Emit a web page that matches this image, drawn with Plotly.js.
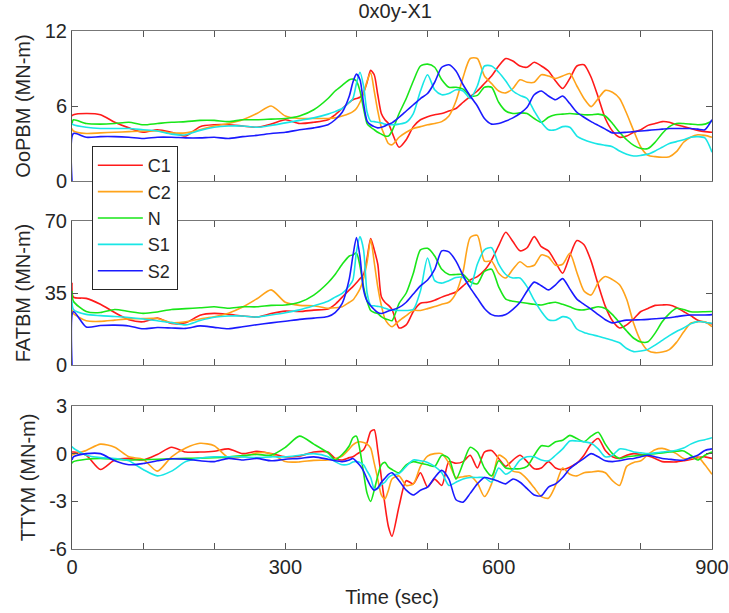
<!DOCTYPE html>
<html>
<head>
<meta charset="utf-8">
<script src="https://cdn.plot.ly/plotly-3.0.1.min.js"></script>
<style>html,body{margin:0;padding:0;background:#fff;}#chart{width:729px;height:613px;}</style>
</head>
<body>
<div id="chart"></div>
<script>
// Time grid (sec)
const timeSec = [0,2,20,40,60,80,100,120,140,160,180,200,220,240,260,280,300,320,340,360,
  370,380,390,395,400,405,410,415,420,425,430,435,440,445,450,
  460,470,480,490,500,510,520,530,540,550,560,570,580,590,600,610,620,630,640,650,660,670,680,690,700,
  710,720,730,740,750,760,770,780,790,800,810,820,830,840,850,860,870,880,890,900];

const seriesNames = ["C1","C2","N","S1","S2"];
const seriesColors = ["#ff1a1a","#ffa31a","#19e619","#19e6e6","#1a1aff"];

// OoPBM (MN-m)
const oopbmC1 = [5.2,5.3,5.4,5.3,4.7,4.25,3.9,4.1,3.9,3.6,4.35,4.5,4.5,4.4,4.3,4.55,4.9,4.6,4.7,4.9,
  5.3,5.8,6.3,6.5,6.6,6.7,7.1,7.9,8.85,8.5,6.9,5.4,4.9,4.6,3.9,
  2.7,3.3,4.35,4.9,5.15,5.3,5.4,5.6,5.8,6.3, 6.75,7.2,7.8,8.4,9.2,9.8,9.6,9.2,9.1,9.5, 9.2,8.8,8.0,7.4,8.2,9.2,9.3,8.3,6.7,5.0, 4.0,3.5,3.6,3.9,4.1,4.45,4.6,4.75,4.7,4.5, 4.35,4.2,4.05,3.95,3.9];
const oopbmC2 = [4.2,4.0,3.8,3.85,3.9,3.95,4.0,4.0,3.85,3.85,4.1,4.4,4.6,4.9,5.4,6.0,5.2,5.0,5.0,5.0,
  5.05,5.2,5.4,5.55,5.8,6.3,7.0,8.0,8.65,7.2,5.6,4.3,3.6,3.0,2.9,
  3.5,3.9,4.2,4.35,4.5,4.6,4.75,5.2,6.4,8.3, 9.8,9.8,8.4,7.8,7.2,7.05,7.4,8.1,7.9,7.9, 8.5,8.4,8.2,8.4,8.6,7.6,6.6,5.95,6.6,7.25, 7.1,6.6,5.4,4.0,2.7,2.05,1.95,1.9,1.95,2.35, 3.1,3.5,3.7,3.65,3.5];
const oopbmN = [4.6,4.9,4.6,4.55,4.6,4.7,4.5,4.6,4.7,4.75,4.85,4.85,4.75,4.9,4.9,4.95,5.0,5.2,5.7,6.6,
  7.2,7.65,8.1,8.15,8.0,7.2,5.8,4.6,4.3,4.1,3.9,3.75,3.6,3.6,4.0,
  5.4,6.6,8.0,9.2,9.35,9.1,8.1,7.5,7.5,7.35, 6.8,6.85,7.5,7.5,6.3,5.6,5.4,5.45,5.4,5.0, 4.7,5.1,5.3,5.35,5.4,5.35,5.3,5.3,5.35,5.2, 4.6,3.9,3.3,2.85,2.6,2.6,3.1,3.8,4.35,4.6, 4.6,4.55,4.5,4.55,4.8];
const oopbmS1 = [4.6,4.5,4.3,4.2,4.2,4.2,4.1,4.0,3.75,3.7,4.05,4.3,4.4,4.4,4.3,4.45,4.65,4.85,5.05,5.35,
  5.55,5.8,6.3,6.6,7.8,8.7,7.6,5.5,4.8,4.75,4.7,4.65,4.55,4.5,4.5,
  4.55,4.7,5.4,7.2,8.5,7.3,6.9,7.0,7.3,7.2, 6.6,7.6,9.2,9.2,8.7,8.0,7.2,6.85,6.6,5.6, 4.7,4.1,4.1,4.35,4.3,3.6,3.3,3.1,2.95,2.85, 2.75,2.4,2.15,2.0,2.05,2.15,2.4,2.7,3.0,3.15, 3.3,3.5,3.55,3.45,2.3];
const oopbmS2 = [0,3.8,3.5,3.55,3.55,3.5,3.4,3.5,3.5,3.45,3.45,3.5,3.4,3.55,3.65,3.8,3.9,4.1,4.25,4.5,
  4.9,5.5,6.8,7.9,8.55,8.1,6.2,4.8,4.5,4.35,4.25,4.3,4.4,4.55,4.65,
  5.1,5.6,6.1,6.6,7.0,7.9,9.1,9.3,8.8,7.7, 6.8,6.0,5.0,4.55,4.6,4.8,5.05,5.4,5.9,6.9, 7.2,6.8,6.5,6.8,6.2,5.5,5.1,4.75,4.45,4.15, 3.85,3.85,3.9,3.95,4.0,4.05,4.1,4.15,4.2,4.2, 4.2,4.2,4.15,4.1,4.9];

// FATBM (MN-m)
const fatbmC1 = [40,33,32.4,29.5,25.5,22.0,21.0,22.8,20.2,20.5,24.2,25.1,24.6,23.8,23.3,25.0,26.2,26.0,26.7,27.2,
  29.5,33.0,36.5,38.1,40.0,42.0,44.0,52.0,61.5,56.0,49.0,33.2,30.5,29.0,27.0,
  18.0,19.5,26.0,30.0,30.5,31.5,33.0,34.2,35.5,38.5, 41.3,43.0,46.0,51.0,58.0,64.5,60.0,55.5,57.0,62.4, 57.5,55.5,50.0,44.6,53.0,60.5,58.5,50.5,39.0,28.5, 21.5,18.0,19.5,22.5,26.0,27.5,29.0,29.2,29.2,28.0, 26.0,24.0,21.8,20.8,20.0];
const fatbmC2 = [27,25,21.5,21.2,21.8,22.4,22.6,22.6,20.6,21.0,22.4,23.5,25.2,28.2,32.2,36.5,30.5,29.0,28.8,27.6,
  27.8,28.3,30.5,31.6,34.0,37.0,42.0,50.0,61.0,50.0,38.0,29.0,22.5,19.8,18.6,
  21.5,24.0,26.5,26.5,27.4,28.4,29.5,30.5,35.0,45.5, 62.0,63.0,50.5,50.5,44.6,42.3,46.5,50.2,47.8,48.5, 53.5,52.5,48.5,49.0,54.3,45.0,36.0,34.0,40.0,43.0, 41.5,39.0,32.0,20.0,11.5,7.0,6.0,6.3,7.5,11.0, 16.0,20.3,21.0,21.0,18.6];
const fatbmN = [36,31,26.0,25.5,27.0,26.0,25.1,25.8,27.0,27.4,27.8,28.3,27.6,28.3,28.3,29.0,29.2,30.5,34.0,40.0,
  44.0,49.0,53.0,53.5,54.5,48.0,38.0,31.0,26.5,25.5,25.0,23.5,22.5,22.0,21.5,
  30.0,35.0,44.6,56.0,56.7,53.0,46.5,44.0,44.0,44.0, 40.5,39.5,45.5,46.5,38.0,32.0,31.0,30.5,30.0,29.5, 29.2,30.0,30.5,29.5,28.3,27.0,26.8,27.5,28.3,27.5, 24.5,20.5,16.5,13.0,11.2,11.3,15.5,21.0,25.0,27.6, 27.0,25.9,25.8,25.9,26.0];
const fatbmS1 = [31,27,24.6,24.0,23.6,23.1,22.4,21.5,20.6,19.5,21.6,23.2,23.8,23.8,23.3,24.3,25.4,26.8,28.8,31.0,
  33.0,34.8,38.5,41.3,55.0,62.5,56.0,35.0,29.0,28.8,28.5,28.2,27.6,27.0,26.7,
  26.5,26.5,27.0,36.0,52.0,41.0,39.8,41.0,42.5,42.5, 38.0,49.0,56.0,57.0,49.0,44.0,42.3,42.3,38.0,31.5, 26.0,22.0,21.8,23.5,22.5,17.5,15.8,14.8,14.0,13.0, 12.0,10.8,8.0,6.5,6.8,7.6,9.7,12.0,14.3,16.3, 18.0,20.0,21.1,20.8,20.3];
const fatbmS2 = [0,26,18.5,19.2,19.4,19.0,17.6,18.2,18.0,17.8,19.0,18.3,17.6,18.6,19.6,20.5,21.3,22.2,22.8,23.6,
  25.5,30.0,42.0,53.0,62.0,52.6,36.5,31.0,28.8,27.0,25.5,25.0,25.5,26.3,26.7,
  28.0,30.5,34.5,38.5,41.3,46.5,55.5,55.0,50.5,43.5, 37.5,32.5,27.5,24.5,23.8,24.5,27.0,30.5,36.0,40.3, 38.5,36.5,39.0,42.0,37.0,32.0,29.5,27.2,24.5,22.0, 20.5,21.2,21.8,21.9,22.0,22.2,22.5,22.7,23.0,23.5, 24.0,24.3,24.3,24.3,24.5];

// TTYM (MN-m)
const ttymC1 = [0.1,0.1,-0.1,-1.0,-0.4,-0.3,-0.4,-0.05,0.4,0.1,0.1,0.15,0.3,0.0,0.15,0.0,-0.2,-0.15,0.1,0.1,
  -0.3,-0.4,-0.25,-0.2,-0.05,0.1,0.25,0.7,1.4,1.5,0.2,-1.5,-3.2,-4.6,-5.2,
  -3.3,-1.7,-1.9,-1.2,-2.1,-1.6,-2.0,-0.5,-0.6,-0.5, -0.1,-0.9,0.1,0.2,-0.3,-0.8,-0.4,-0.1,-0.5,-0.95, -0.9,-0.5,-0.9,-1.0,-0.85,-0.6,-0.1,0.6,0.95,0.2, -0.2,-0.3,-0.1,0.0,-0.05,-0.15,-0.3,-0.5,-0.52,-0.52, -0.45,-0.37,-0.25,-0.2,-0.3];
const ttymC2 = [-0.1,-0.05,0.2,0.6,0.4,-0.2,-0.35,-1.1,-0.2,0.35,0.65,0.5,-0.25,-0.2,0.05,0.0,-0.5,-0.52,-0.42,-0.4,
  -0.3,-0.15,0.3,0.55,0.7,0.75,0.7,0.6,0.35,-0.6,-1.6,-2.6,-2.85,-2.3,-1.6,
  -1.4,-2.0,-1.9,-0.8,-0.15,0.0,0.0,-0.6,-1.5,-1.45, -1.4,-1.85,-2.7,-1.9,-0.1,-0.35,-1.1,-1.2,-1.6,-2.15, -2.7,-2.8,-2.0,-0.9,-1.3,-1.4,-1.2,-1.15,-1.1,-1.2, -1.7,-2.0,-0.8,-0.55,-0.45,-0.05,0.25,0.33,0.2,0.0, -0.3,-0.3,-0.2,-0.7,-1.3];
const ttymN = [-0.6,-0.5,-0.35,-0.3,-0.35,-0.4,-0.38,-0.35,-0.33,-0.3,-0.28,-0.25,-0.2,-0.12,-0.05,-0.1,0.4,1.1,0.6,0.05,
  -0.4,-0.05,0.5,1.0,1.1,0.2,-1.2,-2.5,-3.0,-2.3,-1.4,-0.7,-0.55,-0.85,-1.0,
  -1.2,-0.7,-0.5,-0.6,-0.7,-0.8,-0.1,-0.3,-1.6,-0.6, 0.4,0.1,-0.9,-1.4,-0.45,-0.9,-0.95,-0.95,-0.8,-0.1, 0.5,0.45,0.75,0.85,1.15,0.95,0.75,1.1,1.35,0.6, 0.0,-0.3,-0.2,-0.15,-0.1,-0.05,0.0,0.05,0.1,0.15, 0.17,-0.1,-0.4,-0.1,0.1];
const ttymS1 = [0.45,0.35,-0.1,-0.25,-0.3,-0.45,-1.0,-1.4,-1.1,-0.5,-0.28,-0.2,-0.2,-0.2,-0.25,-0.2,-0.2,-0.1,0.0,-0.2,
  -0.5,-0.7,-0.65,-0.52,-0.5,-0.55,-0.7,-1.1,-1.5,-2.2,-2.2,-1.95,-1.8,-1.5,-1.35,
  -1.25,-0.8,-0.4,-0.45,-0.55,-0.8,-1.2,-2.0,-1.8,-1.6, -1.5,-1.5,-1.5,-1.8,-0.9,-1.3,-1.0,-0.4,-0.2,-0.2, -0.4,-0.45,-0.1,0.3,0.8,0.8,0.75,0.65,0.3,-0.2, -0.1,0.3,0.25,0.11,0.05,0.0,0.05,0.1,0.15,0.22, 0.35,0.6,0.78,0.88,1.0];
const ttymS2 = [-0.4,-0.2,0.0,0.0,-0.45,-0.7,-0.62,-0.45,-0.32,-0.35,-0.45,-0.5,-0.3,-0.4,-0.3,-0.45,-0.35,-0.3,-0.2,-0.35,
  -0.45,-0.5,-0.4,-0.3,-0.5,-0.75,-1.1,-1.6,-2.05,-2.3,-2.15,-1.8,-1.55,-1.3,-1.2,
  -1.7,-2.3,-2.6,-2.3,-2.1,-1.5,-1.05,-1.6,-2.9,-3.05, -2.5,-1.9,-1.5,-1.6,-1.75,-1.9,-1.6,-1.8,-2.2,-2.6, -2.65,-2.1,-1.9,-1.5,-0.95,-0.6,-0.3,0.0,-0.2,-0.45, -0.5,-0.45,-0.35,-0.3,-0.2,-0.1,-0.2,-0.3,-0.35,-0.4, -0.41,-0.25,-0.1,0.2,0.3];

const xTickVals = [0,100,200,300,400,500,600,700,800,900];
const xTickText = ["0","","","300","","","600","","","900"];

const panels = [
  {series:[oopbmC1,oopbmC2,oopbmN,oopbmS1,oopbmS2], xa:"x", ya:"y"},
  {series:[fatbmC1,fatbmC2,fatbmN,fatbmS1,fatbmS2], xa:"x2", ya:"y2"},
  {series:[ttymC1,ttymC2,ttymN,ttymS1,ttymS2], xa:"x3", ya:"y3"}
];

const traces = [];
panels.forEach((p, pi) => {
  p.series.forEach((vals, si) => {
    traces.push({
      x: timeSec, y: vals, xaxis: p.xa, yaxis: p.ya,
      type: "scatter", mode: "lines",
      name: seriesNames[si], legendgroup: seriesNames[si],
      showlegend: pi === 0,
      line: {color: seriesColors[si], width: 1.6, shape: "spline", smoothing: 0.7},
      hoverinfo: "skip"
    });
  });
});

const font = {family: "Liberation Sans, Arial, sans-serif", size: 20, color: "#262626"};
function xax(showLabels, anchor) {
  return {
    domain: [0,1], anchor: anchor, range: [0,900],
    tickmode: "array", tickvals: xTickVals, ticktext: xTickText,
    showticklabels: showLabels, ticks: "inside", ticklen: 6, tickcolor: "#555",
    showline: true, linecolor: "#777", linewidth: 1, mirror: "ticks",
    showgrid: false, zeroline: false, tickfont: font
  };
}
function yax(domain, range, tvals, title, anchor) {
  return {
    domain: domain, anchor: anchor, range: range,
    tickmode: "array", tickvals: tvals, ticktext: tvals.map(String),
    ticks: "inside", ticklen: 6, tickcolor: "#555",
    showline: true, linecolor: "#555", linewidth: 1, mirror: "ticks",
    showgrid: false, zeroline: false, tickfont: font,
    title: {text: title, font: font, standoff: 8}
  };
}

const layout = {
  width: 729, height: 613,
  margin: {l: 72, r: 17, t: 31, b: 64},
  paper_bgcolor: "#fff", plot_bgcolor: "#fff",
  font: font,
  title: {text: "0x0y-X1", font: {family: font.family, size: 20, color: "#262626"}, x: 0.505, xref: "paper", xanchor: "center", y: 0.982, yanchor: "middle"},
  xaxis: xax(false, "y"),
  xaxis2: xax(false, "y2"),
  xaxis3: Object.assign(xax(true, "y3"), {title: {text: "Time (sec)", font: font, standoff: 12}}),
  yaxis: yax([0.7104, 1], [0, 12], [0, 6, 12], "OoPBM (MN-m)", "x"),
  yaxis2: yax([0.3552, 0.6332], [0, 70], [0, 35, 70], "FATBM (MN-m)", "x2"),
  yaxis3: yax([0, 0.2761], [-6, 3], [-6, -3, 0, 3], "TTYM (MN-m)", "x3"),
  showlegend: true,
  legend: {
    x: 0.031, y: 0.778, xanchor: "left", yanchor: "top",
    bgcolor: "#fff", bordercolor: "#262626", borderwidth: 1,
    font: {family: font.family, size: 18, color: "#262626"}, tracegroupgap: 0, itemwidth: 45
  }
};

Plotly.newPlot("chart", traces, layout, {staticPlot: true, displayModeBar: false});
</script>
</body>
</html>
